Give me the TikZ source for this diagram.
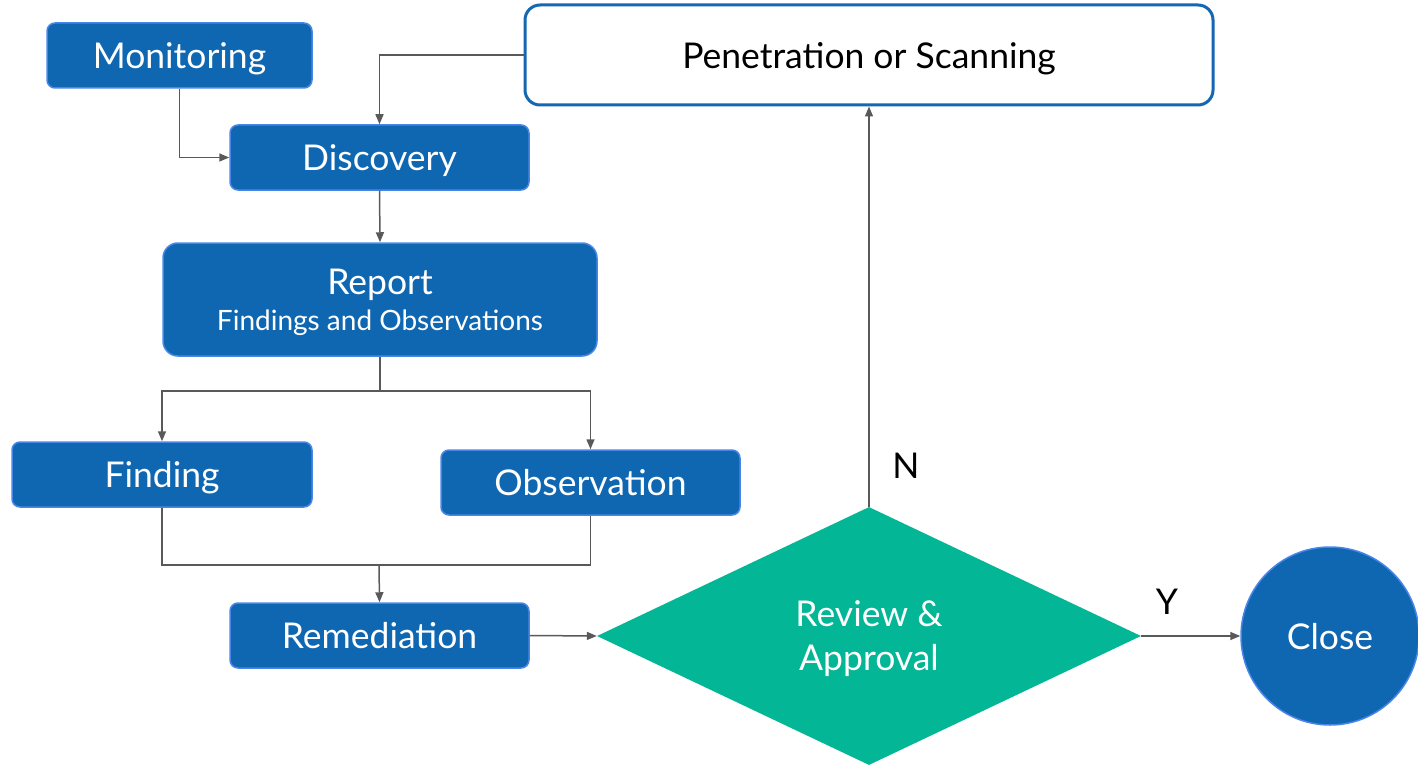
\documentclass[tikz,border=0pt]{standalone}
\usepackage{fontspec}
\setmainfont{Lato}
\usetikzlibrary{arrows.meta,shapes.geometric}
\definecolor{boxblue}{HTML}{1067B1}
\definecolor{edgeblue}{HTML}{4A86E8}
\definecolor{darkedge}{HTML}{1467B0}
\definecolor{teal}{HTML}{02B696}
\definecolor{wire}{HTML}{595959}
\newcommand{\bigtext}{\fontsize{35.5}{40}\selectfont}
\tikzset{
  procbox/.style={draw=edgeblue, line width=1.5pt, fill=boxblue, text=white,
    rounded corners=8pt, inner sep=0pt, text depth=0pt, font=\bigtext},
  outlinebox/.style={draw=darkedge, line width=3pt, fill=white, text=black,
    rounded corners=15pt, inner sep=0pt, text depth=0pt, font=\bigtext},
  decision/.style={diamond, fill=teal, text=white, inner sep=0pt, aspect=2.109,
    align=center, text depth=0pt, font=\fontsize{35.5}{44}\selectfont},
  endpoint/.style={circle, draw=edgeblue, line width=1.5pt, fill=boxblue, text=white,
    inner sep=0pt, minimum size=178pt, text depth=0pt, font=\bigtext},
  flow/.style={draw=wire, line width=1.5pt, -{Triangle[length=10pt,width=8pt]}},
  plain/.style={draw=wire, line width=1.5pt},
  tag/.style={text=black, inner sep=0pt, font=\bigtext}
}
\begin{document}
\begin{tikzpicture}[x=1pt,y=-1pt]
\useasboundingbox (0,0) rectangle (1418,765);

% process boxes
\node[procbox, minimum width=265pt, minimum height=65pt] (mon) at (179.5,55.5) {Monitoring};
\node[procbox, minimum width=299pt, minimum height=65pt] (disc) at (379.5,157.5) {Discovery};
\node[procbox, rounded corners=15pt, minimum width=434pt, minimum height=113pt, align=center] (rep) at (380,299.5)
  {Report\\[-4pt]{\fontsize{28}{32}\selectfont Findings and Observations}};
\node[procbox, minimum width=300pt, minimum height=65pt] (find) at (162,474.5) {Finding};
\node[procbox, minimum width=299pt, minimum height=65pt] (obs) at (590.5,482.5) {Observation};
\node[procbox, minimum width=299pt, minimum height=65pt] (rem) at (379.5,635.5) {Remediation};

% scanning box, decision and end point
\node[outlinebox, minimum width=688pt, minimum height=100pt] (pen) at (869,55) {Penetration or Scanning};
\node[decision, minimum width=544pt, minimum height=258pt] (rev) at (869,636) {Review \&\\Approval};
\node[endpoint] (close) at (1330,636) {Close};

% connectors
\draw[flow] (mon.south) |- (disc.west);
\draw[flow] (pen.west) -| (disc.north);
\draw[flow] (disc.south) -- (rep.north);
\coordinate (split) at (380,391);
\draw[plain] (rep.south) -- (split);
\draw[flow] (split) -| (find.north);
\draw[flow] (split) -| (obs.north);
\coordinate (join) at (379,565);
\draw[plain] (find.south) |- (join) -| (obs.south);
\draw[flow] (join) -- (rem.north);
\draw[flow] (rem.east) -- (rev.west);
\draw[flow] (rev.north) -- (pen.south);
\draw[flow] (rev.east) -- (close.west);

% branch labels
\node[tag] (nlab) at (906,466) {N};
\node[tag] (ylab) at (1167,602) {Y};
\end{tikzpicture}
\end{document}
